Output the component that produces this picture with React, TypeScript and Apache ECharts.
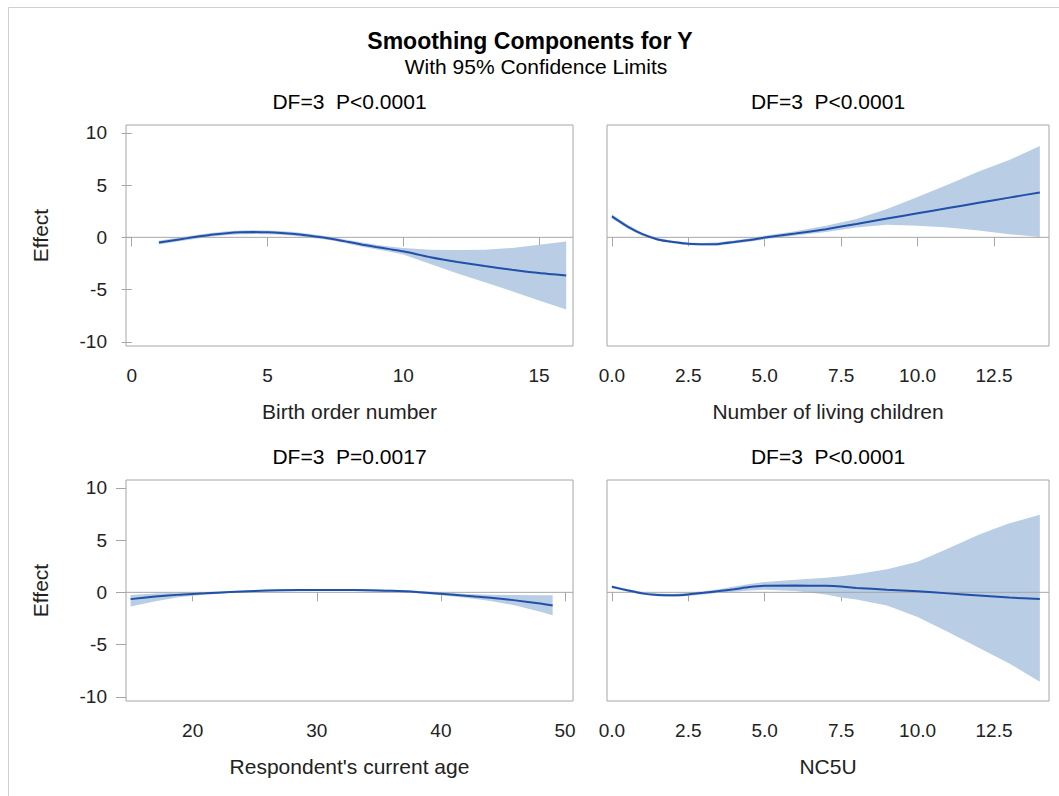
import React, { useEffect, useRef } from "react";
import * as echarts from "echarts";

// ---------- data ----------
const birthX = [1, 1.5, 2, 2.5, 3, 3.5, 4, 4.5, 5, 5.5, 6, 6.5, 7, 7.5, 8, 8.5, 9, 9.5, 10, 11, 12, 13, 14, 15, 16];
const birthFit = [-0.5, -0.3, -0.1, 0.1, 0.28, 0.4, 0.48, 0.5, 0.48, 0.42, 0.32, 0.17, 0.0, -0.2, -0.45, -0.7, -0.92, -1.13, -1.34, -1.9, -2.36, -2.75, -3.1, -3.42, -3.65];
const birthUpper = [-0.32, -0.12, 0.08, 0.28, 0.45, 0.58, 0.66, 0.68, 0.66, 0.6, 0.5, 0.35, 0.17, -0.04, -0.27, -0.5, -0.7, -0.88, -1.03, -1.18, -1.22, -1.2, -1.02, -0.72, -0.4];
const birthLower = [-0.68, -0.48, -0.28, -0.08, 0.11, 0.22, 0.3, 0.32, 0.3, 0.24, 0.14, -0.01, -0.17, -0.36, -0.63, -0.9, -1.14, -1.38, -1.65, -2.55, -3.45, -4.3, -5.15, -6.05, -6.9];

const childX = [0, 0.5, 1, 1.5, 2, 2.5, 3, 3.5, 4, 4.5, 5, 6, 7, 8, 9, 10, 11, 12, 13, 14];
const childFit = [2.0, 1.05, 0.3, -0.2, -0.45, -0.62, -0.66, -0.63, -0.45, -0.25, -0.02, 0.36, 0.78, 1.28, 1.8, 2.3, 2.8, 3.3, 3.8, 4.3];
const childUpper = [2.2, 1.22, 0.45, -0.07, -0.33, -0.5, -0.54, -0.48, -0.3, -0.08, 0.15, 0.58, 1.1, 1.75, 2.7, 3.85, 5.05, 6.3, 7.4, 8.75];
const childLower = [1.8, 0.88, 0.15, -0.33, -0.57, -0.74, -0.78, -0.78, -0.6, -0.42, -0.19, 0.18, 0.52, 0.95, 1.2, 1.1, 0.95, 0.65, 0.3, 0.03];

const ageX = [15, 17, 19, 21, 23, 25, 27, 30, 33, 36, 38, 40, 42, 44, 46, 48, 49];
const ageFit = [-0.65, -0.4, -0.22, -0.1, 0.02, 0.13, 0.2, 0.22, 0.22, 0.14, 0.04, -0.14, -0.33, -0.52, -0.77, -1.08, -1.27];
const ageUpper = [-0.25, -0.12, -0.03, 0.03, 0.1, 0.22, 0.3, 0.32, 0.32, 0.25, 0.15, 0.0, -0.15, -0.22, -0.26, -0.27, -0.27];
const ageLower = [-1.35, -0.85, -0.45, -0.22, -0.06, 0.05, 0.11, 0.13, 0.13, 0.04, -0.07, -0.28, -0.52, -0.82, -1.26, -1.85, -2.2];

const ncX = [0, 0.5, 1, 1.5, 2, 2.5, 3, 3.5, 4, 4.5, 5, 6, 7, 7.5, 8, 9, 10, 11, 12, 13, 14];
const ncFit = [0.53, 0.2, -0.1, -0.25, -0.29, -0.2, -0.05, 0.12, 0.3, 0.5, 0.63, 0.65, 0.62, 0.55, 0.42, 0.25, 0.1, -0.1, -0.3, -0.5, -0.64];
const ncUpper = [0.65, 0.32, 0.02, -0.12, -0.15, -0.05, 0.1, 0.3, 0.55, 0.8, 1.0, 1.2, 1.4, 1.55, 1.72, 2.2, 2.92, 4.2, 5.5, 6.6, 7.42];
const ncLower = [0.4, 0.08, -0.22, -0.38, -0.43, -0.35, -0.2, -0.05, 0.06, 0.18, 0.25, 0.12, -0.2, -0.5, -0.68, -1.25, -2.35, -3.8, -5.3, -6.8, -8.55];

const birthTicks = [0, 5, 10, 15];
const childTicks = [0, 2.5, 5, 7.5, 10, 12.5];
const ageTicks = [20, 30, 40, 50];
const effectTicks = [-10, -5, 0, 5, 10];

const panelTitles = ["DF=3  P<0.0001", "DF=3  P<0.0001", "DF=3  P=0.0017", "DF=3  P<0.0001"];
const axisNames = ["Birth order number", "Number of living children", "Respondent's current age", "NC5U"];
const mainTitle = "Smoothing Components for Y";
const subTitle = "With 95% Confidence Limits";
const yName = "Effect";

// ---------- styling ----------
const FONT = '"Liberation Sans", Arial, Helvetica, sans-serif';
const FRAME = "#a6a6a6";
const BAND = "#b9cde5";
const FIT = "#2050a8";

const grids = [
  { left: 126, top: 125, width: 447, height: 221 },
  { left: 607, top: 125, width: 442, height: 221 },
  { left: 126, top: 480, width: 447, height: 221 },
  { left: 607, top: 480, width: 442, height: 221 },
];
const xRanges = [
  [-0.21, 16.25],
  [-0.16, 14.3],
  [14.63, 50.64],
  [-0.16, 14.3],
];
const Y_MIN = -10.4;
const Y_MAX = 10.75;

const panels = [
  { x: birthX, fit: birthFit, up: birthUpper, lo: birthLower, ticks: birthTicks, fmt: (v: number) => String(v) },
  { x: childX, fit: childFit, up: childUpper, lo: childLower, ticks: childTicks, fmt: (v: number) => v.toFixed(1) },
  { x: ageX, fit: ageFit, up: ageUpper, lo: ageLower, ticks: ageTicks, fmt: (v: number) => String(v) },
  { x: ncX, fit: ncFit, up: ncUpper, lo: ncLower, ticks: childTicks, fmt: (v: number) => v.toFixed(1) },
];

export default function App() {
  const ref = useRef<HTMLDivElement>(null);
  useEffect(() => {
    document.body.style.margin = "0";
    document.body.style.overflow = "hidden";
    if (!ref.current) return;
    const chart = echarts.init(ref.current, null, { renderer: "svg" });

    const xAxis: any[] = [];
    const yAxis: any[] = [];
    const series: any[] = [];
    panels.forEach((p, i) => {
      xAxis.push({
        type: "value",
        gridIndex: i,
        min: xRanges[i][0],
        max: xRanges[i][1],
        axisLine: { show: false },
        splitLine: { show: false },
        axisTick: { show: true, length: 9, inside: false, customValues: p.ticks, lineStyle: { color: FRAME, width: 1 } },
        axisLabel: {
          show: true,
          customValues: p.ticks,
          margin: 20,
          formatter: (v: number) => p.fmt(v),
          color: "#222",
          fontFamily: FONT,
          fontSize: 19,
        },
        name: axisNames[i],
        nameLocation: "middle",
        nameGap: 55,
        nameTextStyle: { color: "#222", fontFamily: FONT, fontSize: 21 },
      });
      const left = i % 2 === 0;
      yAxis.push({
        type: "value",
        gridIndex: i,
        min: Y_MIN,
        max: Y_MAX,
        axisLine: { show: false },
        splitLine: { show: false },
        axisTick: { show: left, length: 10, customValues: effectTicks, lineStyle: { color: FRAME, width: 1 } },
        axisLabel: {
          show: left,
          customValues: effectTicks,
          margin: 19,
          color: "#222",
          fontFamily: FONT,
          fontSize: 19,
        },
      });
      // confidence band as one polygon through the axis scales
      series.push({
        type: "custom",
        xAxisIndex: i,
        yAxisIndex: i,
        data: p.x.map((v, k) => [v, p.lo[k], p.up[k]]),
        encode: { x: 0, y: [1, 2] },
        silent: true,
        z: 2,
        renderItem: (params: any, api: any) => {
          if (params.dataIndex !== 0) return null;
          const top = p.x.map((v, k) => api.coord([v, p.up[k]]));
          const bottom = p.x.map((v, k) => api.coord([v, p.lo[k]])).reverse();
          return {
            type: "polygon",
            shape: { points: top.concat(bottom) },
            style: { fill: BAND, stroke: null },
          };
        },
      });
      series.push({
        type: "line",
        xAxisIndex: i,
        yAxisIndex: i,
        data: [
          [xRanges[i][0], 0],
          [xRanges[i][1], 0],
        ],
        symbol: "none",
        lineStyle: { color: FRAME, width: 1 },
        silent: true,
        z: 3,
      });
      series.push({
        type: "line",
        xAxisIndex: i,
        yAxisIndex: i,
        data: p.x.map((v, k) => [v, p.fit[k]]),
        symbol: "none",
        smooth: 0.2,
        lineStyle: { color: FIT, width: 2 },
        silent: true,
        z: 4,
      });
    });

    const graphic: any[] = [
      { type: "line", shape: { x1: 8.5, y1: 7.5, x2: 8.5, y2: 800 }, style: { stroke: "#cfcfcf", lineWidth: 1 }, silent: true },
      { type: "line", shape: { x1: 8.5, y1: 7.5, x2: 1060, y2: 7.5 }, style: { stroke: "#cfcfcf", lineWidth: 1 }, silent: true },
      {
        type: "text",
        x: 530,
        y: 41,
        style: { text: mainTitle, fill: "#000", font: `bold 23px ${FONT}`, textAlign: "center", textVerticalAlign: "middle" },
      },
      {
        type: "text",
        x: 536,
        y: 66,
        style: { text: subTitle, fill: "#000", font: `21px ${FONT}`, textAlign: "center", textVerticalAlign: "middle" },
      },
    ];
    grids.forEach((g, i) => {
      graphic.push({
        type: "text",
        x: g.left + g.width / 2,
        y: i < 2 ? 101 : 456,
        style: { text: panelTitles[i], fill: "#000", font: `21px ${FONT}`, textAlign: "center", textVerticalAlign: "middle" },
      });
      if (i % 2 === 0) {
        graphic.push({
          type: "text",
          x: 40,
          y: g.top + g.height / 2,
          rotation: Math.PI / 2,
          style: { text: yName, fill: "#222", font: `21px ${FONT}`, textAlign: "center", textVerticalAlign: "middle" },
        });
      }
    });

    chart.setOption({
      animation: false,
      backgroundColor: "#fff",
      grid: grids.map((g) => ({ ...g, show: true, borderColor: FRAME, borderWidth: 1, backgroundColor: "transparent" })),
      xAxis,
      yAxis,
      series,
      graphic,
    });
    return () => chart.dispose();
  }, []);
  return <div ref={ref} style={{ width: 1059, height: 796 }} />;
}
